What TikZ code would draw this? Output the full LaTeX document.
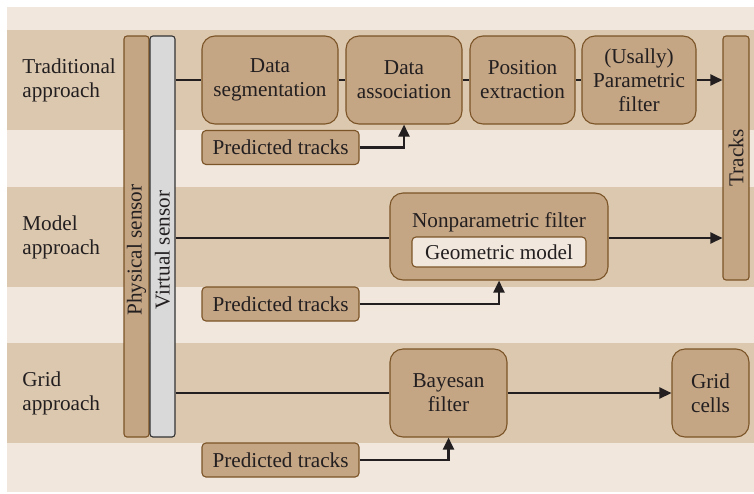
\documentclass[tikz,border=0pt]{standalone}
\usepackage{fontspec}
\setmainfont{Liberation Serif}
\usetikzlibrary{arrows.meta,positioning,calc}

\definecolor{paleback}{HTML}{F1E7DD}
\definecolor{bandback}{HTML}{DCC8AF}
\definecolor{boxfill}{HTML}{C4A584}
\definecolor{boxline}{HTML}{7B5427}
\definecolor{barfill}{HTML}{D9D9D9}
\definecolor{inktext}{HTML}{231F20}

\tikzset{
  every node/.style={font=\rmfamily\fontsize{10.6}{12}\selectfont, text=inktext},
  stage/.style={draw=boxline, fill=boxfill, line width=0.55pt, rounded corners=6.5pt,
    align=center, inner sep=1pt},
  predbox/.style={draw=boxline, fill=boxfill, line width=0.55pt, rounded corners=2pt,
    minimum width=78.5pt, minimum height=17pt, inner sep=1pt},
  sensorbar/.style={line width=0.55pt, rounded corners=1.5pt, minimum height=12.5pt,
    minimum width=200.5pt, inner sep=0pt, rotate=90},
  flow/.style={line width=1.2pt, draw=inktext},
  flowarrow/.style={flow, -{Triangle[length=6pt,width=5.5pt]}},
  rowlabel/.style={anchor=west, align=left, inner sep=0pt}
}

\begin{document}
\begin{tikzpicture}[x=0.5pt, y=-0.5pt]
    \useasboundingbox (0,0) rectangle (754,493);
    % Background and bands
    \fill[paleback] (7,7) rectangle (754,492);
    \fill[bandback] (7,30) rectangle (754,130);
    \fill[bandback] (7,187) rectangle (754,287);
    \fill[bandback] (7,343) rectangle (754,443);
    % Row labels
    \node[rowlabel] (trad) at (22,80) {Traditional\\approach};
    \node[rowlabel] (model) at (22,237) {Model\\approach};
    \node[rowlabel] (gridl) at (22,393) {Grid\\approach};
    % Sensor bars
    \node[sensorbar, draw=boxline, fill=boxfill] (phys) at (136.5,236.5) {};
    \node[rotate=90, inner sep=0pt] (physlbl) at (136.5,250) {Physical sensor};
    \node[sensorbar, draw=black!80, fill=barfill] (virt) at (162.5,236.5) {};
    \node[rotate=90, inner sep=0pt] (virtlbl) at (162.5,250) {Virtual sensor};
    % Traditional approach
    \node[stage, minimum width=68pt, minimum height=44pt] (dseg) at (270,80) {Data\\segmentation};
    \node[stage, minimum width=58pt, minimum height=44pt] (dassoc) at (404,80) {Data\\association};
    \node[stage, minimum width=52.5pt, minimum height=44pt] (posx) at (522.5,80) {Position\\extraction};
    \node[stage, minimum width=57pt, minimum height=44pt] (pfilt) at (639,80) {(Usally)\\Parametric\\filter};
    \node[stage, rounded corners=1.5pt, rotate=90, minimum width=122pt, minimum height=13pt,
      inner sep=0pt] (tracks) at (736,158) {Tracks};
    \node[predbox] (pt1) at (280.5,147.5) {Predicted tracks};
    \draw[flow] (virt.south |- dseg.west) -- (dseg.west);
    \draw[flow] (dseg) -- (dassoc);
    \draw[flow] (dassoc) -- (posx);
    \draw[flow] (posx) -- (pfilt);
    \draw[flowarrow] (pfilt.east) -- (tracks.north |- pfilt.east);
    \draw[flowarrow] (pt1.east) -| (dassoc.south);
    % Model approach
    \node[stage, minimum width=109pt, minimum height=43.5pt] (npfilt) at (499,236.5) {};
    \node[inner sep=0pt] (nplbl) at (499,222) {Nonparametric filter};
    \node[draw=boxline, fill=paleback, line width=0.55pt, rounded corners=2pt,
      minimum width=87pt, minimum height=15pt, inner sep=0pt] (geom) at (499,252) {Geometric model};
    \node[predbox] (pt2) at (280.5,304) {Predicted tracks};
    \draw[flow] (virt.south |- 0,238) -- (npfilt.west |- 0,238);
    \draw[flowarrow] (npfilt.east |- 0,238) -- (tracks.north |- 0,238);
    \draw[flowarrow] (pt2.east) -| (npfilt.south);
    % Grid approach
    \node[stage, minimum width=58.5pt, minimum height=44pt] (bayes) at (448.5,393) {Bayesan\\filter};
    \node[stage, minimum width=38.5pt, minimum height=44pt] (gcells) at (710.5,393) {Grid\\cells};
    \node[predbox] (pt3) at (280.5,460) {Predicted tracks};
    \draw[flow] (virt.south |- bayes.west) -- (bayes.west);
    \draw[flowarrow] (bayes) -- (gcells);
    \draw[flowarrow] (pt3.east) -| (bayes.south);
\end{tikzpicture}
\end{document}
